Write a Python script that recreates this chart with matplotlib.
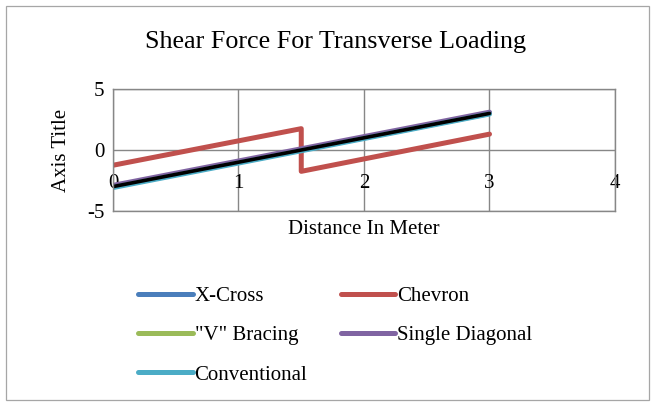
import matplotlib
matplotlib.use("Agg")
import matplotlib.pyplot as plt
from matplotlib.patches import Rectangle

plt.rcParams['font.family'] = ['Liberation Serif', 'DejaVu Serif']
plt.rcParams['axes.unicode_minus'] = False

# Distance along the member (m)
x_pts = [0, 3]
x_chevron = [0, 1.5, 1.5, 3]

# Shear force values (kN)
x_cross = [-3.0, 3.0]
chevron = [-1.25, 1.75, -1.75, 1.3]
v_bracing = [-3.0, 3.0]
single_diag = [-2.9, 3.1]
conventional = [-3.08, 2.95]
overall = [-3.0, 3.0]

x_ticks = [0, 1, 2, 3, 4]
y_ticks = [-5, 0, 5]

W, H = 657, 405
fig = plt.figure(figsize=(W / 100, H / 100), dpi=100)

# outer chart border
fig.patches.append(Rectangle((6 / W, 5 / H), 643 / W, 394 / H, transform=fig.transFigure,
                             fill=False, edgecolor='#a6a6a6', linewidth=0.9))

ax = fig.add_axes([113 / W, 1 - 211 / H, (615 - 113) / W, (211 - 89) / H])
ax.set_xlim(0, 4)
ax.set_ylim(-5, 5)

grid_c = '#878787'
ax.set_xticks(x_ticks)
ax.set_yticks(y_ticks)
ax.grid(True, color=grid_c, linewidth=1.0)
ax.set_axisbelow(True)
for s in ['top', 'right', 'left']:
    ax.spines[s].set_color(grid_c)
    ax.spines[s].set_linewidth(1.0)
ax.spines['bottom'].set_position(('data', 0))
ax.spines['bottom'].set_visible(False)
ax.axhline(-5, color=grid_c, linewidth=1.0, clip_on=False)
ax.tick_params(length=0, labelsize=15)
ax.tick_params(axis='x', pad=17)
ax.tick_params(axis='y', pad=6)

lw = 3.6
ax.plot(x_pts, x_cross, color='#4a7ebb', linewidth=lw, solid_capstyle='round', label='X-Cross')
ax.plot(x_chevron, chevron, color='#c0504d', linewidth=lw, solid_capstyle='round', label='Chevron')
ax.plot(x_pts, v_bracing, color='#9bbb59', linewidth=lw, solid_capstyle='round', label='"V" Bracing')
ax.plot(x_pts, single_diag, color='#8064a2', linewidth=lw, solid_capstyle='round', label='Single Diagonal')
ax.plot(x_pts, conventional, color='#4bacc6', linewidth=lw, solid_capstyle='round', label='Conventional')
ax.plot(x_pts, overall, color='black', linewidth=2.6, solid_capstyle='round')

fig.text(336 / W, 1 - 42 / H, 'Shear Force For Transverse Loading', ha='center', va='center', fontsize=18.8)
fig.text(364 / W, 1 - 229 / H, 'Distance In Meter', ha='center', va='center', fontsize=15)
fig.text(62 / W, 1 - 150 / H, 'Axis Title', ha='center', va='center', rotation=90, fontsize=15)

handles, labels = ax.get_legend_handles_labels()
# fill the two legend columns so entries read row by row
order = [0, 2, 4, 1, 3]
leg = fig.legend([handles[i] for i in order], [labels[i] for i in order],
                 loc='upper left', bbox_to_anchor=(130 / W, 1 - 278 / H),
                 ncol=2, frameon=False, fontsize=15, handlelength=2.6, handletextpad=0.1,
                 columnspacing=1.6, labelspacing=0.95, borderaxespad=0)

fig.savefig('out.png', dpi=100)
